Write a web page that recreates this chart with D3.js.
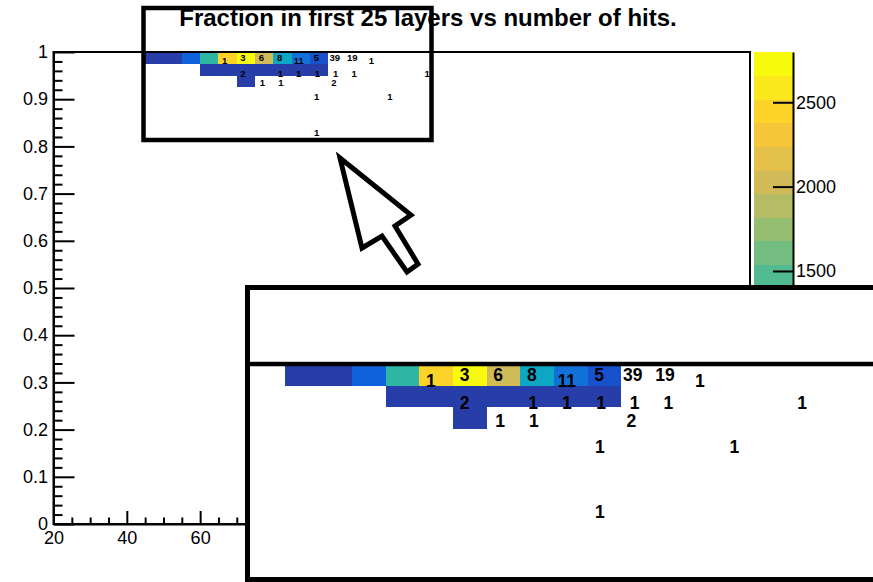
<!DOCTYPE html>
<html>
<head>
<meta charset="utf-8">
<script src="https://cdn.jsdelivr.net/npm/d3@7"></script>
<style>
  body { margin: 0; background: #fff; }
  svg { display: block; font-family: "Liberation Sans", Arial, Helvetica, sans-serif; }
</style>
</head>
<body>
<svg id="chart" width="873" height="582"></svg>
<script>
// ---- 2D histogram: occupied bins (lower-left corner of each bin) ----
const binWidth = 5;
const binHeight = 0.025;
const cellX = [45, 50, 55, 60, 65, 70, 75, 80, 85, 90,
               60, 65, 70, 75, 80, 85, 90,
               70];
const cellY = [0.975, 0.975, 0.975, 0.975, 0.975, 0.975, 0.975, 0.975, 0.975, 0.975,
               0.95, 0.95, 0.95, 0.95, 0.95, 0.95, 0.95,
               0.925];
const cellCount = [70, 95, 350, 1330, 2450, 2798, 2050, 1050, 520, 210,
                   40, 60, 55, 30, 20, 15, 10,
                   25];

// ---- bin-content text overlay ----
const labelX = [66.7, 71.7, 76.7, 81.7, 86.9, 91.7, 96.7, 101.5, 106.7,
                71.7, 81.9, 86.9, 92.0, 97.0, 102.0, 121.9,
                77.0, 82.0, 96.5,
                91.8, 111.8,
                91.8];
const labelY = [0.981, 0.988, 0.988, 0.988, 0.981, 0.988, 0.988, 0.988, 0.981,
                0.955, 0.955, 0.955, 0.955, 0.955, 0.955, 0.955,
                0.935, 0.935, 0.935,
                0.905, 0.905,
                0.830];
const labelText = [1, 3, 6, 8, 11, 5, 39, 19, 1,
                   2, 1, 1, 1, 1, 1, 1,
                   1, 1, 2,
                   1, 1,
                   1];

// ---- axes ----
const xDomain = [20, 210];
const yDomain = [0, 1];
const xMajorTicks = [20, 40, 60, 80, 100, 120, 140, 160, 180, 200];
const yMajorTicks = [0, 0.1, 0.2, 0.3, 0.4, 0.5, 0.6, 0.7, 0.8, 0.9, 1];
const zMajorTicks = [0, 500, 1000, 1500, 2000, 2500];
const nContours = 20;

const titleText = "Fraction in first 25 layers vs number of hits.";

// kBird palette stops
const birdStops = [0, 0.125, 0.25, 0.375, 0.5, 0.625, 0.75, 0.875, 1];
const birdR = [0.2082, 0.0592, 0.0780, 0.0232, 0.1802, 0.5301, 0.8186, 0.9956, 0.9764];
const birdG = [0.1664, 0.3599, 0.5041, 0.6419, 0.7178, 0.7492, 0.7328, 0.7862, 0.9832];
const birdB = [0.5293, 0.8684, 0.8385, 0.7914, 0.6425, 0.4662, 0.3499, 0.1968, 0.0539];

const svg = d3.select("#chart");

const frame = { left: 53.5, right: 750, top: 52, bottom: 524 };
const x = d3.scaleLinear().domain(xDomain).range([frame.left, frame.right]);
const y = d3.scaleLinear().domain(yDomain).range([frame.bottom, frame.top]);

const zMax = d3.max(cellCount);
const nColors = 255;
const rI = d3.scaleLinear().domain(birdStops).range(birdR);
const gI = d3.scaleLinear().domain(birdStops).range(birdG);
const bI = d3.scaleLinear().domain(birdStops).range(birdB);
function birdColor(t) {
  return d3.rgb(rI(t) * 255, gI(t) * 255, bI(t) * 255).formatHex();
}
function levelColor(level) {
  const idx = Math.floor((level + 0.99) * nColors / nContours);
  return birdColor(Math.min(idx, nColors - 1) / (nColors - 1));
}
function countColor(v) {
  const level = Math.min(nContours - 1, Math.floor(v / zMax * nContours));
  return levelColor(level);
}

const cells = cellX.map((cx, i) => ({ x: cx, y: cellY[i], v: cellCount[i] }));
const labels = labelX.map((lx, i) => ({ x: lx, y: labelY[i], t: labelText[i] }));

// Cells, bin labels and frame, drawn with whatever scales are given
function drawContent(g, xs, ys, fontSize, frameWidth) {
  g.append("g").selectAll("rect").data(cells).join("rect")
    .attr("x", d => xs(d.x))
    .attr("y", d => ys(d.y + binHeight))
    .attr("width", d => xs(d.x + binWidth) - xs(d.x))
    .attr("height", d => ys(d.y) - ys(d.y + binHeight))
    .attr("fill", d => countColor(d.v))
    .attr("shape-rendering", "crispEdges");

  g.append("g").selectAll("text").data(labels).join("text")
    .attr("x", d => xs(d.x))
    .attr("y", d => ys(d.y))
    .attr("dy", "0.36em")
    .attr("text-anchor", "middle")
    .attr("font-size", fontSize)
    .attr("font-weight", "bold")
    .attr("fill", "#000")
    .text(d => d.t);

  g.append("rect")
    .attr("x", xs(xDomain[0])).attr("y", ys(yDomain[1]))
    .attr("width", xs(xDomain[1]) - xs(xDomain[0]))
    .attr("height", ys(yDomain[0]) - ys(yDomain[1]))
    .attr("fill", "none").attr("stroke", "#000").attr("stroke-width", frameWidth);
}

// Title
svg.append("text")
  .attr("x", 428).attr("y", 25.5)
  .attr("text-anchor", "middle")
  .attr("font-size", 24).attr("font-weight", "bold")
  .text(titleText);

// Main plot
const main = svg.append("g");
drawContent(main, x, y, 9.5, 2);

// X axis
const xMinor = d3.range(xDomain[0], xDomain[1] + 0.001, 5).filter(v => v % 20 !== 0);
const xAxisG = main.append("g").attr("transform", `translate(0,${frame.bottom})`);
xAxisG.call(d3.axisBottom(x).tickValues(xMajorTicks).tickSizeInner(-13).tickSizeOuter(0)
  .tickPadding(7).tickFormat(d3.format("d")));
const xMinorG = main.append("g").attr("transform", `translate(0,${frame.bottom})`);
xMinorG.call(d3.axisBottom(x).tickValues(xMinor).tickSizeInner(-6.5).tickSizeOuter(0).tickFormat(""));
xMinorG.select(".domain").remove();

// Y axis
const yMinor = d3.range(0, 1.0001, 0.02).filter(v => Math.abs(v * 10 - Math.round(v * 10)) > 1e-6);
const yAxisG = main.append("g").attr("transform", `translate(${frame.left},0)`);
yAxisG.call(d3.axisLeft(y).tickValues(yMajorTicks).tickSizeInner(-21).tickSizeOuter(0)
  .tickPadding(5.5).tickFormat(d => String(+d.toFixed(1))));
const yMinorG = main.append("g").attr("transform", `translate(${frame.left},0)`);
yMinorG.call(d3.axisLeft(y).tickValues(yMinor).tickSizeInner(-9).tickSizeOuter(0).tickFormat(""));
yMinorG.select(".domain").remove();

[xAxisG, xMinorG, yAxisG, yMinorG].forEach(g => {
  g.selectAll("line").attr("stroke", "#000").attr("stroke-width", 2);
  g.selectAll(".domain").attr("stroke", "#000").attr("stroke-width", 2);
  g.selectAll("text").attr("font-size", 18).attr("fill", "#000")
    .attr("font-family", "\"Liberation Sans\", Arial, sans-serif");
});

// Colour palette
const pal = { left: 753.5, right: 793 };
const z = d3.scaleLinear().domain([0, zMax]).range([frame.bottom, frame.top]);
const levels = d3.range(nContours);
svg.append("g").selectAll("rect").data(levels).join("rect")
  .attr("x", pal.left)
  .attr("y", d => z((d + 1) * zMax / nContours))
  .attr("width", pal.right - pal.left)
  .attr("height", d => z(d * zMax / nContours) - z((d + 1) * zMax / nContours) + 0.5)
  .attr("fill", d => levelColor(d))
  .attr("shape-rendering", "crispEdges");
const zAxisG = svg.append("g").attr("transform", `translate(${pal.right},0)`);
zAxisG.call(d3.axisRight(z).tickValues(zMajorTicks).tickSizeInner(-20).tickSizeOuter(0)
  .tickPadding(3).tickFormat(d3.format("d")));
zAxisG.selectAll("line").attr("stroke", "#000").attr("stroke-width", 2);
zAxisG.select(".domain").attr("stroke", "#000").attr("stroke-width", 2);
zAxisG.selectAll("text").attr("font-size", 18).attr("fill", "#000")
  .attr("font-family", "\"Liberation Sans\", Arial, sans-serif");

// Magnified view of the top-left corner of the plot
const mag = 1.835, offX = 18.6, offY = 268.6;
const xi = d3.scaleLinear().domain(xDomain).range(x.range().map(v => offX + mag * v));
const yi = d3.scaleLinear().domain(yDomain).range(y.range().map(v => offY + mag * v));
const bigBox = { x: 247.5, y: 287.5, w: 700, h: 292 };
svg.append("rect")
  .attr("x", bigBox.x).attr("y", bigBox.y).attr("width", bigBox.w).attr("height", bigBox.h)
  .attr("fill", "#fff");
svg.append("clipPath").attr("id", "magClip").append("rect")
  .attr("x", bigBox.x + 2.5).attr("y", bigBox.y + 2.5)
  .attr("width", bigBox.w - 5).attr("height", bigBox.h - 5);
const inset = svg.append("g").attr("clip-path", "url(#magClip)");
drawContent(inset, xi, yi, 17.5, 4.5);
svg.append("rect")
  .attr("x", bigBox.x).attr("y", bigBox.y).attr("width", bigBox.w).attr("height", bigBox.h)
  .attr("fill", "none").attr("stroke", "#000").attr("stroke-width", 5);

// Selection box around the magnified region
svg.append("rect")
  .attr("x", 143.5).attr("y", 8).attr("width", 288).attr("height", 132)
  .attr("fill", "none").attr("stroke", "#000").attr("stroke-width", 4.5);

// Pointer arrow
const arrow = [[340, 158], [411, 215], [395, 226], [418, 264], [407, 272], [382, 236], [362, 248]];
svg.append("polygon")
  .attr("points", arrow.map(p => p.join(",")).join(" "))
  .attr("fill", "#fff").attr("stroke", "#000").attr("stroke-width", 5)
  .attr("stroke-linejoin", "miter");
</script>
</body>
</html>
